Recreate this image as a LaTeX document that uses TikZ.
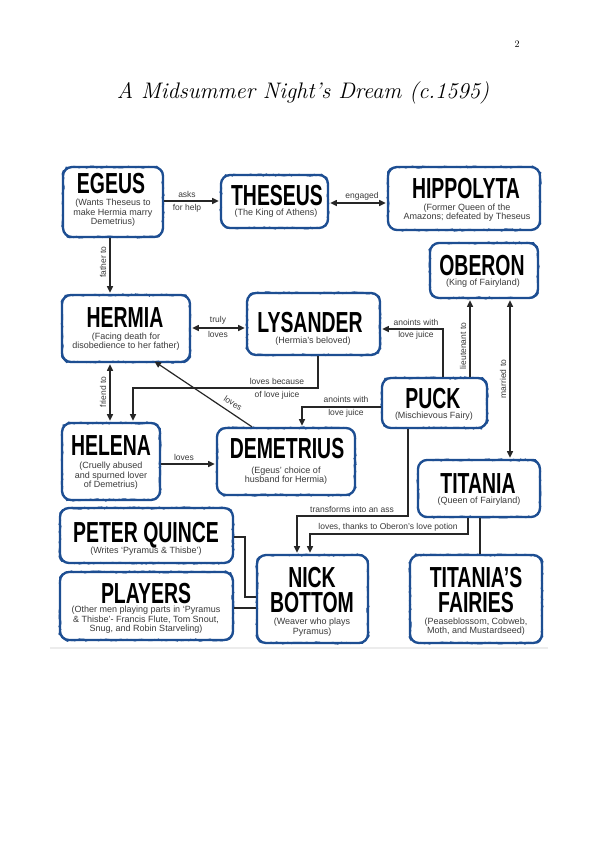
\documentclass[tikz,border=0pt]{standalone}
\usepackage{fontspec}
\newfontfamily\headfont[FakeStretch=0.67]{Liberation Sans}
\newfontfamily\subfont{Liberation Sans}
\usetikzlibrary{arrows.meta,decorations.pathmorphing}
\definecolor{boxblue}{HTML}{1D4E92}
\definecolor{txtgray}{HTML}{3A3A3A}
\tikzset{
 card/.style={draw=boxblue, line width=2.3pt, rounded corners=9pt, fill=white, inner sep=0pt,
   postaction={draw=boxblue, line width=1.2pt, sharp corners, decorate,
     decoration={random steps, segment length=2.5pt, amplitude=1pt}}},
 head/.style={font=\headfont\bfseries\fontsize{29}{25}\selectfont, text=black, inner sep=0pt, anchor=base},
 sub/.style={font=\subfont\fontsize{9}{9.5}\selectfont, text=txtgray, align=center, inner sep=0pt},
 lbl/.style={font=\subfont\fontsize{8.5}{10}\selectfont, text=txtgray, inner sep=0pt},
 conn/.style={draw=black!85, line width=1.2pt},
 arr/.style={conn, -{Triangle[length=6.5pt,width=6pt]}, shorten >=1.2pt},
 darr/.style={conn, {Triangle[length=6.5pt,width=6pt]}-{Triangle[length=6.5pt,width=6pt]}, shorten >=1.2pt, shorten <=1.2pt},
}
\begin{document}
\begin{tikzpicture}[x=1pt,y=-1pt]
\pgfmathsetseed{7}
\fill[white] (0,0) rectangle (600,848);
\useasboundingbox (0,0) rectangle (600,848);

\node[font=\rmfamily\fontsize{10}{12}\selectfont, inner sep=0pt] (pnum) at (517,44) {2};
\node[font=\rmfamily\itshape\fontsize{22.5}{26}\selectfont, inner sep=0pt] (title) at (303,93) {A Midsummer Night’s Dream (c.1595)};

\draw[gray!15, line width=1.5pt] (50,648) -- (548,648);

% boxes
\node[card, minimum width=100pt, minimum height=70pt] (egeus) at (113,202) {};
\node[card, minimum width=107pt, minimum height=53pt] (theseus) at (274.5,201.5) {};
\node[card, minimum width=152pt, minimum height=63pt] (hippolyta) at (464,198.5) {};
\node[card, minimum width=108pt, minimum height=55pt] (oberon) at (484,270.5) {};
\node[card, minimum width=128pt, minimum height=67pt] (hermia) at (126,328.5) {};
\node[card, minimum width=133pt, minimum height=62pt] (lysander) at (313.5,324) {};
\node[card, minimum width=105pt, minimum height=50pt] (puck) at (434.5,403) {};
\node[card, minimum width=98pt, minimum height=77pt] (helena) at (111,461.5) {};
\node[card, minimum width=138pt, minimum height=67pt] (demetrius) at (286,461.5) {};
\node[card, minimum width=122pt, minimum height=57pt] (titania) at (479,488.5) {};
\node[card, minimum width=173pt, minimum height=55pt] (quince) at (146.5,535.5) {};
\node[card, minimum width=173pt, minimum height=68pt] (players) at (146.5,606) {};
\node[card, minimum width=111pt, minimum height=88pt] (bottom) at (312.5,599) {};
\node[card, minimum width=132pt, minimum height=88pt] (fairies) at (476,599) {};

% titles
\node[head] (egeus-t) at (111,193) {EGEUS};
\node[head] (theseus-t) at (277,205) {THESEUS};
\node[head] (hippolyta-t) at (466,198) {HIPPOLYTA};
\node[head] (oberon-t) at (482,275) {OBERON};
\node[head] (hermia-t) at (125,327) {HERMIA};
\node[head] (lysander-t) at (310,332) {LYSANDER};
\node[head] (puck-t) at (433,408) {PUCK};
\node[head] (helena-t) at (111,455) {HELENA};
\node[head] (demetrius-t) at (287,458) {DEMETRIUS};
\node[head] (titania-t) at (478,493) {TITANIA};
\node[head] (quince-t) at (146,542) {PETER QUINCE};
\node[head] (players-t) at (146,603) {PLAYERS};
\node[head] (bottom-t1) at (312,587) {NICK};
\node[head] (bottom-t2) at (312,612) {BOTTOM};
\node[head] (fairies-t1) at (476,587) {TITANIA’S};
\node[head] (fairies-t2) at (476,612) {FAIRIES};

% subtitles
\node[sub] (egeus-s) at (113,213) {(Wants Theseus to\\make Hermia marry\\Demetrius)};
\node[sub] (theseus-s) at (276,213) {(The King of Athens)};
\node[sub] (hippolyta-s) at (467,212.5) {(Former Queen of the\\Amazons; defeated by Theseus};
\node[sub] (oberon-s) at (483,283) {(King of Fairyland)};
\node[sub] (hermia-s) at (126,341.5) {(Facing death for\\disobedience to her father)};
\node[sub] (lysander-s) at (313,341) {(Hermia’s beloved)};
\node[sub] (puck-s) at (434,416) {(Mischievous Fairy)};
\node[sub] (helena-s) at (111,476) {(Cruelly abused\\and spurned lover\\of Demetrius)};
\node[sub] (demetrius-s) at (286,475.5) {(Egeus’ choice of\\husband for Hermia)};
\node[sub] (titania-s) at (479,501) {(Queen of Fairyland)};
\node[sub] (quince-s) at (146,551) {(Writes ‘Pyramus \& Thisbe’)};
\node[sub] (players-s) at (146,620) {(Other men playing parts in ‘Pyramus\\\& Thisbe’- Francis Flute, Tom Snout,\\Snug, and Robin Starveling)};
\node[sub] (bottom-s) at (312,627) {(Weaver who plays\\Pyramus)};
\node[sub] (fairies-s) at (476,626.5) {(Peaseblossom, Cobweb,\\Moth, and Mustardseed)};

% connectors
\draw[arr] (egeus.east |- 0,201) -- (theseus.west |- 0,201);
\node[lbl] (l1a) at (187,194) {asks};
\node[lbl] (l1b) at (187,208) {for help};
\draw[darr] (theseus.east |- 0,203) -- (hippolyta.west |- 0,203);
\node[lbl] (l2) at (362,196) {engaged};
\draw[arr] (egeus.south -| 110,0) -- (hermia.north -| 110,0);
\node[lbl, rotate=90] (l3) at (103,262) {father to};
\draw[darr] (hermia.east |- 0,328) -- (lysander.west |- 0,328);
\node[lbl] (l4a) at (218,320) {truly};
\node[lbl] (l4b) at (218,334) {loves};
\draw[arr] (puck.north -| 443,0) |- (lysander.east |- 0,329);
\node[lbl] (l5a) at (416,322) {anoints with};
\node[lbl] (l5b) at (416,335) {love juice};
\draw[arr] (puck.north -| 470,0) -- (oberon.south -| 470,0);
\node[lbl, rotate=90] (l6) at (463,346) {lieutenant to};
\draw[darr] (oberon.south -| 510,0) -- (titania.north -| 510,0);
\node[lbl, rotate=90] (l7) at (503,379) {married to};
\draw[arr] (lysander.south -| 318,0) |- (133,388) -- (helena.north -| 133,0);
\node[lbl] (l8a) at (277,381) {loves because};
\node[lbl] (l8b) at (277,395) {of love juice};
\draw[darr] (hermia.south -| 110,0) -- (helena.north -| 110,0);
\node[lbl, rotate=90] (l9) at (103,392) {friend to};
\draw[arr, shorten >=-3pt] (demetrius.north -| 252,0) -- (hermia.south -| 157,0);
\node[lbl, rotate=-33] (l10) at (233,403) {loves};
\draw[arr] (helena.east |- 0,464) -- (demetrius.west |- 0,464);
\node[lbl] (l11) at (184,457) {loves};
\draw[arr] (puck.west |- 0,407) -| (demetrius.north -| 302,0);
\node[lbl] (l12a) at (346,399) {anoints with};
\node[lbl] (l12b) at (346,413) {love juice};
\draw[arr] (puck.south -| 408,0) |- (297,516) -- (bottom.north -| 297,0);
\node[lbl] (l13) at (352,509) {transforms into an ass};
\draw[arr] (titania.south -| 468,0) |- (310,534) -- (bottom.north -| 310,0);
\node[lbl] (l14) at (388,527) {loves, thanks to Oberon’s love potion};
\draw[conn] (titania.south -| 480,0) -- (fairies.north -| 480,0);
\draw[conn] (quince.east |- 0,537) -| (245,597) -- (bottom.west |- 0,597);
\draw[conn] (players.east |- 0,608) -- (bottom.west |- 0,608);
\end{tikzpicture}
\end{document}
